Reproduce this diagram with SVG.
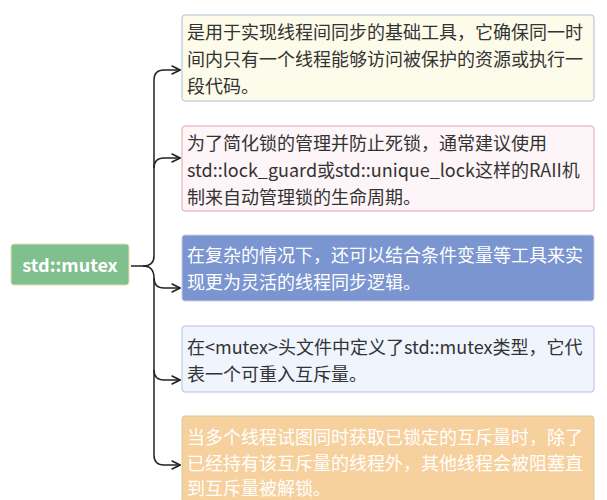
<svg xmlns="http://www.w3.org/2000/svg" width="607" height="500" viewBox="0 0 607 500">
<style>
text{font-family:"Noto Sans CJK SC","Noto Sans",sans-serif;font-size:18px;fill:#333}
.w{fill:#fff}
.c{fill:none;stroke:#222;stroke-width:1.5}
</style>
<defs><marker id="a" viewBox="0 0 10 10" refX="9" refY="5" markerWidth="7" markerHeight="7" orient="auto"><path d="M1,1 L9,5 L1,9" fill="none" stroke="#222" stroke-width="1.5"/></marker></defs>
<rect width="607" height="500" fill="#fff"/>
<g id="connectors">
<path class="c" d="M131,266 H143 Q154,266 154,256 V80 Q154,70 164,70 H180" marker-end="url(#a)"/>
<path class="c" d="M154,168 Q154,158 164,158 H180" marker-end="url(#a)"/>
<path class="c" d="M143,266 Q154,266 154,278 Q154,288 164,288 H180" marker-end="url(#a)"/>
<path class="c" d="M154,278 V370 Q154,380 164,380 H180" marker-end="url(#a)"/>
<path class="c" d="M154,370 V455 Q154,465 164,465 H180" marker-end="url(#a)"/>
</g>
<g id="root"><rect x="11" y="244" width="118" height="41" rx="3" fill="#80bf8e" stroke="#e6dfb0"/><text x="70" y="272" text-anchor="middle" class="w" style="font-weight:bold;font-size:18px">std::mutex</text></g>
<g id="n1"><rect x="182" y="15" width="412" height="86" rx="3" fill="#fdfbe9" stroke="#a9bfd6"/>
<text x="187" y="39">是用于实现线程间同步的基础工具，它确保同一时</text><text x="187" y="66">间内只有一个线程能够访问被保护的资源或执行一</text><text x="187" y="93">段代码。</text></g>
<g id="n2"><rect x="182" y="126" width="412" height="85" rx="3" fill="#fdf5f7" stroke="#e2a2b2"/>
<text x="187" y="150">为了简化锁的管理并防止死锁，通常建议使用</text><text x="187" y="177">std::lock_guard或std::unique_lock这样的RAII机</text><text x="187" y="204">制来自动管理锁的生命周期。</text></g>
<g id="n3"><rect x="182" y="235" width="412" height="66" rx="3" fill="#7a95cf" stroke="#c8cfe0"/>
<text class="w" x="187" y="262">在复杂的情况下，还可以结合条件变量等工具来实</text><text class="w" x="187" y="289">现更为灵活的线程同步逻辑。</text></g>
<g id="n4"><rect x="182" y="326" width="412" height="66" rx="3" fill="#eff4fd" stroke="#b7bde5"/>
<text x="187" y="354">在&lt;mutex&gt;头文件中定义了std::mutex类型，它代</text><text x="187" y="381">表一个可重入互斥量。</text></g>
<g id="n5"><rect x="182" y="416" width="412" height="96" rx="3" fill="#f6d09d" stroke="#d8c89a"/>
<text class="w" x="187" y="444">当多个线程试图同时获取已锁定的互斥量时，除了</text><text class="w" x="187" y="470">已经持有该互斥量的线程外，其他线程会被阻塞直</text><text class="w" x="187" y="495">到互斥量被解锁。</text></g>
</svg>
